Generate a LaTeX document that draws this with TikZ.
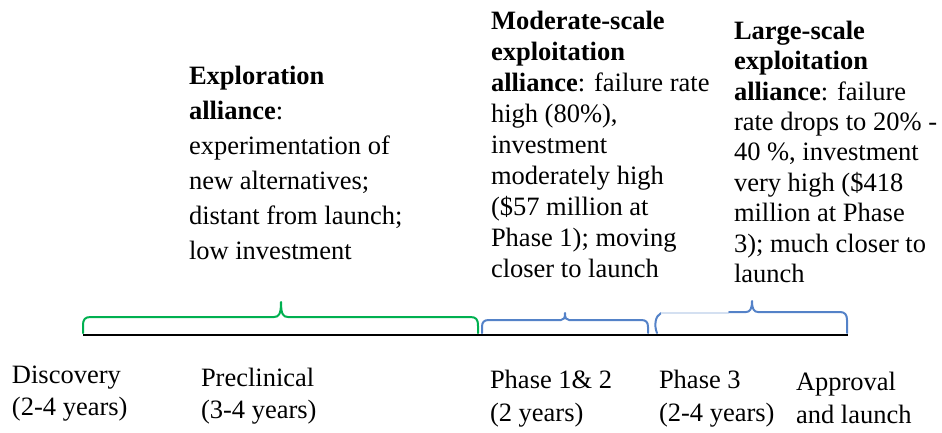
\documentclass[tikz,border=0pt]{standalone}
\usepackage{fontspec}
\setmainfont{Liberation Serif}
\usepackage{tikz}
\definecolor{exploregreen}{RGB}{0,176,80}
\definecolor{exploitblue}{RGB}{84,130,200}

\begin{document}
\begin{tikzpicture}[x=1pt,y=-1pt]
  \useasboundingbox (0,0) rectangle (942,432);
  \tikzset{AllianceStyle/.style = {
    anchor        = north west,
    align         = left,
    inner sep     = 0pt,
    outer sep     = 0pt,
    text          = black,
    font          = \fontsize{26.5}{31}\selectfont
    }
  }
  \tikzset{StageStyle/.style = {
    anchor        = north west,
    align         = left,
    inner sep     = 0pt,
    outer sep     = 0pt,
    text          = black,
    font          = \fontsize{26.5}{32}\selectfont
    }
  }
  \tikzset{BraceStyle/.style = {
    line width    = 2pt,
    line cap      = round,
    line join     = round
    }
  }

  % alliance descriptions
  \node[AllianceStyle, font=\fontsize{26.5}{35}\selectfont](explore) at (189,66)
    {\textbf{Exploration}\\\textbf{alliance}:\\experimentation of\\new alternatives;\\distant from launch;\\low investment};
  \node[AllianceStyle](moderate) at (491,11)
    {\textbf{Moderate-scale}\\\textbf{exploitation}\\\textbf{alliance}: failure rate\\high (80\%),\\investment\\moderately high\\(\$57 million at\\Phase 1); moving\\closer to launch};
  \node[AllianceStyle, font=\fontsize{26.5}{30.4}\selectfont](large) at (734,21)
    {\textbf{Large-scale}\\\textbf{exploitation}\\\textbf{alliance}: failure\\rate drops to 20\% -\\40 \%, investment\\very high (\$418\\million at Phase\\3); much closer to\\launch};

  % braces
  \draw[BraceStyle, draw=exploregreen] (83,333) -- (83,326) .. controls (83,319) and (85,317) .. (91,317)
    -- (274,317) .. controls (279,317) and (281,314) .. (281,302)
    .. controls (281,314) and (283,317) .. (288,317) -- (470,317)
    .. controls (476,317) and (478,319) .. (478,326) -- (478,333);
  \draw[BraceStyle, draw=exploitblue] (482,333) -- (482,327) .. controls (482,322) and (484,320) .. (489,320)
    -- (561,320) .. controls (564,320) and (565,318) .. (565,313)
    .. controls (565,318) and (566,320) .. (569,320) -- (641,320)
    .. controls (646,320) and (648,322) .. (648,327) -- (648,333);
  \draw[BraceStyle, draw=exploitblue] (657,333) .. controls (654,326) and (655,316) .. (661,313);
  \draw[line width=1.5pt, draw=exploitblue!25] (661,313) -- (729,313);
  \draw[BraceStyle, draw=exploitblue] (729,312) -- (746,312) .. controls (750,312) and (752,309) .. (752,301)
    .. controls (752,309) and (754,312) .. (758,312) -- (840,312)
    .. controls (845,312) and (847,315) .. (847,320) -- (847,333);

  % time line
  \draw[line width=2.5pt, draw=black] (83,335) -- (848,335);

  % development stages
  \node[StageStyle](discovery) at (12,366) {Discovery\\(2-4 years)};
  \node[StageStyle](preclinical) at (201,368) {Preclinical\\(3-4 years)};
  \node[StageStyle, font=\fontsize{26.5}{33}\selectfont](phaseA) at (490,370) {Phase 1\& 2\\(2 years)};
  \node[StageStyle, font=\fontsize{26.5}{33}\selectfont](phaseB) at (659,370) {Phase 3\\(2-4 years)};
  \node[StageStyle, font=\fontsize{26.5}{33}\selectfont](approval) at (796,372) {Approval\\and launch};
\end{tikzpicture}
\end{document}
